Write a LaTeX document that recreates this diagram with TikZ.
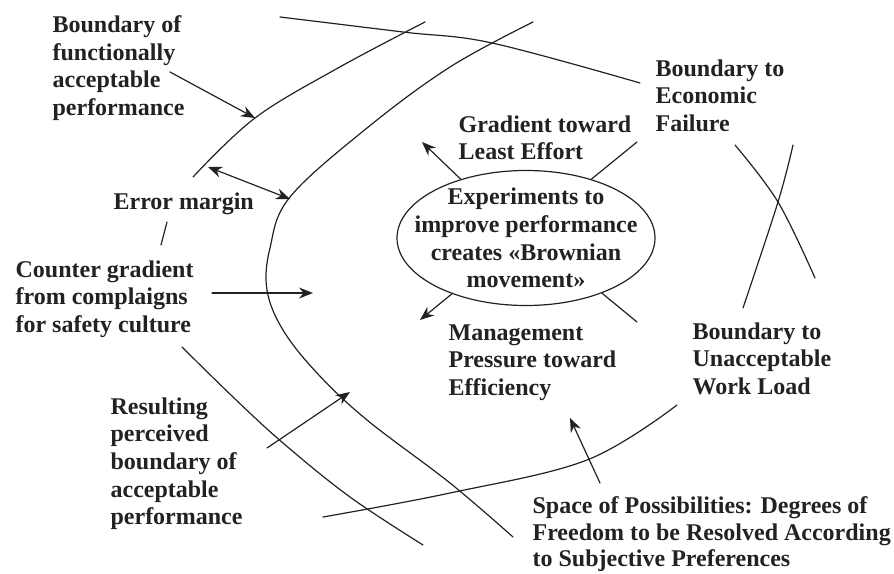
\documentclass[tikz,border=0pt]{standalone}
\usepackage{fontspec}
\setmainfont{Liberation Serif}
\usetikzlibrary{shapes.geometric,arrows.meta}
\definecolor{ink}{RGB}{34,34,34}
\tikzset{
  lbl/.style={anchor=north west, inner sep=0pt, align=left},
  bnd/.style={smooth, tension=0.6},
}
\begin{document}
\begin{tikzpicture}[x=1pt, y=-1pt, font=\fontsize{24}{27.6}\selectfont\bfseries,
    line join=round, line cap=round, line width=1.2pt, draw=ink, text=ink,
    >={Stealth[length=14pt,width=11pt]}]
  \useasboundingbox (0,0) rectangle (894,573);

  % labels
  \node[lbl] (bfa) at (52,15) {Boundary of\\functionally\\acceptable\\performance};
  \node[lbl] (ecf) at (655,59) {Boundary to\\Economic\\Failure};
  \node[lbl] (gle) at (458,115) {Gradient toward\\Least Effort};
  \node[lbl] (err) at (113,192) {Error margin};
  \node[lbl] (cgr) at (15,260) {Counter gradient\\from complaigns\\for safety culture};
  \node[lbl] (mpe) at (448,324) {Management\\Pressure toward\\Efficiency};
  \node[lbl] (uwl) at (692,322) {Boundary to\\Unacceptable\\Work Load};
  \node[lbl] (rpb) at (110,397) {Resulting\\perceived\\boundary of\\acceptable\\performance};
  \node[lbl, font=\fontsize{24}{26.5}\selectfont\bfseries] (spo) at (532,496)
    {Space of Possibilities: Degrees of\\Freedom to be Resolved According\\to Subjective Preferences};

  % experiments in the middle
  \node[draw, ellipse, minimum width=258pt, minimum height=135pt, inner sep=0pt] (exp) at (526,238) {};
  \node[align=center, inner sep=0pt] (exptxt) at (exp) {Experiments to\\improve performance\\creates «Brownian\\movement»};

  % boundaries
  \draw[bnd] plot coordinates {(280,17) (403,32) (492,43) (640,83)};
  \draw[bnd] plot coordinates {(425,22) (338,68) (255,118) (193,177)};
  \draw[bnd] plot coordinates {(533,22) (450,67) (367,128) (290,197) (270,248) (267,290)
    (283,330) (317,373) (367,420) (450,483) (513,537)};
  \draw[bnd] plot coordinates {(182,347) (233,397) (283,443) (350,497) (423,545)};
  \draw[bnd] plot coordinates {(323,517) (450,493) (587,460) (677,405)};
  \draw[bnd] plot coordinates {(735,145) (778,202) (815,278)};
  \draw[bnd] plot coordinates {(793,145) (778,202) (743,308)};

  % end points of the connectors
  \coordinate (bfa-s) at (170,72);   \coordinate (bfa-e) at (255,118);
  \coordinate (err-a) at (208,167);  \coordinate (err-b) at (290,199);
  \coordinate (tick-a) at (167,222); \coordinate (tick-b) at (161,245);
  \coordinate (cgr-s) at (212,293);  \coordinate (cgr-e) at (313,293);
  \coordinate (rpb-s) at (267,448);  \coordinate (rpb-e) at (350,392);
  \coordinate (spo-s) at (600,483);  \coordinate (spo-e) at (570,418);
  \coordinate (gle-e) at (422,142);  \coordinate (ecf-e) at (637,142);
  \coordinate (mpe-e) at (420,320);  \coordinate (uwl-e) at (637,322);

  \draw[->] (bfa-s) -- (bfa-e);
  \draw[<->] (err-a) -- (err-b);
  \draw (tick-a) -- (tick-b);
  \draw[->] (cgr-s) -- (cgr-e);
  \draw[->] (rpb-s) -- (rpb-e);
  \draw[->] (spo-s) -- (spo-e);

  % gradients around the ellipse
  \draw[->] (exp.138) -- (gle-e);
  \draw (exp.42) -- (ecf-e);
  \draw[->] (exp.217) -- (mpe-e);
  \draw (exp.-36) -- (uwl-e);
\end{tikzpicture}
\end{document}
